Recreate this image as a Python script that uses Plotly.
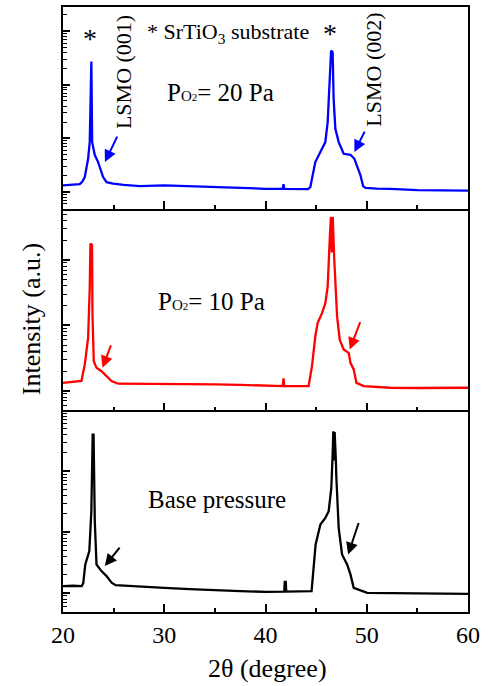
import plotly.graph_objs as go
from plotly.subplots import make_subplots

# 2theta (degree) and intensity (a.u.)
two_theta_20pa = [20, 21.0, 21.65, 21.9, 22.15, 22.48, 22.64, 22.74, 22.80, 22.88, 23.14, 23.47,
                  23.70, 23.96, 24.30, 24.95, 26, 27.6, 30, 32.5, 35, 37.5, 40, 41.7, 41.78,
                  41.86, 43, 44.2, 44.43, 44.92, 45.42, 45.91, 46.14, 46.34, 46.48, 46.63,
                  46.73, 46.90, 47.23, 47.72, 48.1, 48.39, 48.78, 49.05, 49.38, 49.64, 49.87,
                  51, 52.35, 55, 57.5, 60]
intensity_20pa = [13.3, 13.6, 14.0, 15.5, 19.0, 41.7, 85, 728, 2716, 85, 48.9, 36.2,
                  25.7, 19.0, 15.3, 14.3, 13.6, 12.9, 13.3, 12.8, 12.4, 12.0, 11.5, 11.6, 14.0,
                  11.5, 11.4, 11.3, 12.4, 36.2, 55.6, 85.3, 201, 1117, 4355, 4049,
                  546, 151, 85.3, 51.7, 50.5, 49.5, 41.7, 31.4, 20.5, 12.9, 11.9,
                  11.6, 11.5, 10.9, 10.8, 10.6]

two_theta_10pa = [20, 21.0, 21.5, 21.82, 22.15, 22.48, 22.64, 22.71, 22.87, 22.91, 23.04, 23.31,
                  23.80, 24.30, 24.79, 25.45, 27.6, 30, 32.5, 35, 37.5, 40, 41.7, 41.78, 41.86,
                  43, 44.26, 44.59, 44.92, 45.15, 45.58, 45.91, 46.14, 46.34, 46.46, 46.55,
                  46.64, 46.78, 46.97, 47.07, 47.33, 47.72, 48.22, 48.39, 48.71, 48.98, 49.70,
                  52.35, 55, 57.5, 60]
intensity_10pa = [13.2, 13.6, 14.1, 14.1, 25.2, 64.1, 370, 1790, 1690, 150, 28.3, 22.4,
                  19.9, 16.7, 14.1, 12.8, 12.8, 12.8, 12.6, 12.5, 12.3, 12.1, 11.8, 15.4, 11.8,
                  11.8, 11.8, 23.8, 68.1, 108, 154, 218, 392, 2014, 4560, 1300,
                  4560, 1122, 349, 137, 60.5, 42.7, 37.9, 26.7, 21.2, 13.2, 11.8,
                  11.1, 11.0, 11.1, 11.1]

two_theta_base = [20, 21.0, 21.85, 22.0, 22.2, 22.6, 22.8, 22.93, 23.02, 23.14, 23.31, 23.8,
                  24.3, 24.8, 25.2, 27.6, 30, 32.5, 35, 37.5, 40, 41.85, 41.9, 42.0, 42.05,
                  43.5, 44.55, 44.75, 44.95, 45.42, 45.91, 46.24, 46.5, 46.63, 46.70, 46.76,
                  46.83, 46.95, 47.0, 47.23, 47.56, 48.06, 48.39, 48.71, 50.04, 55, 60]
intensity_base = [13.0, 13.2, 13.0, 14.6, 29.5, 48.9, 221, 4000, 4000, 151, 29.5, 23.0,
                  19.0, 14.8, 13.5, 13.0, 12.2, 11.6, 11.1, 10.8, 10.5, 10.6, 15.3, 15.3, 10.6,
                  10.8, 10.8, 26.0, 62.8, 134, 171, 221, 532, 1880, 4530, 1500,
                  4400, 1500, 776, 117, 43, 29.5, 20.3, 12.2, 10.1, 9.9, 9.7]

x_ticks = [20, 30, 40, 50, 60]
decades = [1, 10, 100, 1000, 10000, 100000]
minor_ticks = [d * k for d in decades for k in range(1, 10)]

font = "Liberation Serif, Times New Roman, serif"

fig = make_subplots(rows=3, cols=1, shared_xaxes=True, vertical_spacing=0)

fig.add_trace(go.Scatter(x=two_theta_20pa, y=intensity_20pa, mode="lines",
                         line=dict(color="#0000ff", width=2.3)), row=1, col=1)
fig.add_trace(go.Scatter(x=two_theta_10pa, y=intensity_10pa, mode="lines",
                         line=dict(color="#ff0000", width=2.3)), row=2, col=1)
fig.add_trace(go.Scatter(x=two_theta_base, y=intensity_base, mode="lines",
                         line=dict(color="#000000", width=2.3)), row=3, col=1)

y_ranges = [[0.69, 4.45], [0.70, 3.785], [0.69, 4.0]]
for i, rng in enumerate(y_ranges):
    # the main axis carries the short (minor) ticks
    fig.update_yaxes(
        type="log", range=rng, tickvals=minor_ticks,
        showticklabels=False, ticks="inside", ticklen=4, tickwidth=1, tickcolor="black",
        showline=True, linecolor="black", linewidth=1.5, mirror=True,
        showgrid=False, zeroline=False,
        row=i + 1, col=1
    )
    fig.update_xaxes(
        range=[20, 60], tickvals=x_ticks,
        ticks="inside", ticklen=8, tickwidth=1.5, tickcolor="black",
        minor=dict(ticks="inside", ticklen=4, tickwidth=1.5, tickcolor="black", dtick=5, tick0=20, showgrid=False),
        showline=True, linecolor="black", linewidth=1.5, mirror=(i == 0),
        showgrid=False, zeroline=False,
        row=i + 1, col=1
    )
fig.update_xaxes(showticklabels=True, tickfont=dict(size=24, color="black"), row=3, col=1)

# overlay axes for the long decade ticks
for i, rng in enumerate(y_ranges):
    n = i + 4
    base = "y" if i == 0 else "y%d" % (i + 1)
    xa = "x" if i == 0 else "x%d" % (i + 1)
    fig.add_trace(go.Scatter(x=[], y=[], yaxis="y%d" % n, xaxis=xa, showlegend=False))
    fig.layout["yaxis%d" % n] = dict(
        type="log", range=rng, overlaying=base, anchor=xa, side="left",
        tickvals=decades, showticklabels=False, ticks="inside", ticklen=7, tickwidth=1.5,
        tickcolor="black", showline=False, showgrid=False, zeroline=False,
    )

annotations = []

def txt(text, x, y, xref, yref, size, angle=0):
    annotations.append(dict(text=text, x=x, y=y, xref=xref, yref=yref, showarrow=False,
                            textangle=angle, xanchor="center", yanchor="middle",
                            font=dict(family=font, size=size, color="black")))

def arrow(x, y, ax, ay, xref, yref, color):
    annotations.append(dict(text="", x=x, y=y, ax=ax, ay=ay, xref=xref, yref=yref,
                            showarrow=True, arrowhead=2, arrowsize=1.2, arrowwidth=2,
                            arrowcolor=color, standoff=0, startstandoff=0))

sub_o2 = "P<span style='font-size:15px'>O</span><span style='font-size:11px'>2</span>"

# top panel labels
txt("*", 22.71, 3.87, "x", "y", 28)
txt("* SrTiO<sub>3</sub> substrate", 36.33, 3.96, "x", "y", 22)
txt("*", 46.41, 3.96, "x", "y", 28)
txt(sub_o2 + "= 20 Pa", 35.6, 2.86, "x", "y", 25)
txt("LSMO (001)", 25.92, 3.235, "x", "y", 22, -90)
txt("LSMO (002)", 50.66, 3.29, "x", "y", 22, -90)
arrow(24.14, 1.559, 13, -27, "x", "y", "#0000ff")
arrow(48.78, 1.745, 11, -22, "x", "y", "#0000ff")

# middle panel
txt(sub_o2 + "= 10 Pa", 34.63, 2.365, "x2", "y2", 25)
arrow(23.9, 1.35, 9, -24, "x2", "y2", "#ff0000")
arrow(48.32, 1.63, 11, -29, "x2", "y2", "#ff0000")

# bottom panel
txt("Base pressure", 35.22, 2.54, "x3", "y3", 25)
arrow(24.13, 1.443, 16, -20, "x3", "y3", "#000000")
arrow(48.16, 1.634, 11, -33, "x3", "y3", "#000000")

# axis titles
txt("Intensity (a.u.)", -0.079, 0.484, "paper", "paper", 26, -90)
txt("2θ (degree)", 0.504, -0.093, "paper", "paper", 26)

fig.update_layout(
    width=488, height=686,
    margin=dict(l=63, r=20, t=5, b=74),
    showlegend=False,
    plot_bgcolor="white", paper_bgcolor="white",
    font=dict(family=font, color="black"),
    annotations=annotations,
)

fig.write_html("out.html", config={"displayModeBar": False},
               post_script="document.body.style.margin='0';")
